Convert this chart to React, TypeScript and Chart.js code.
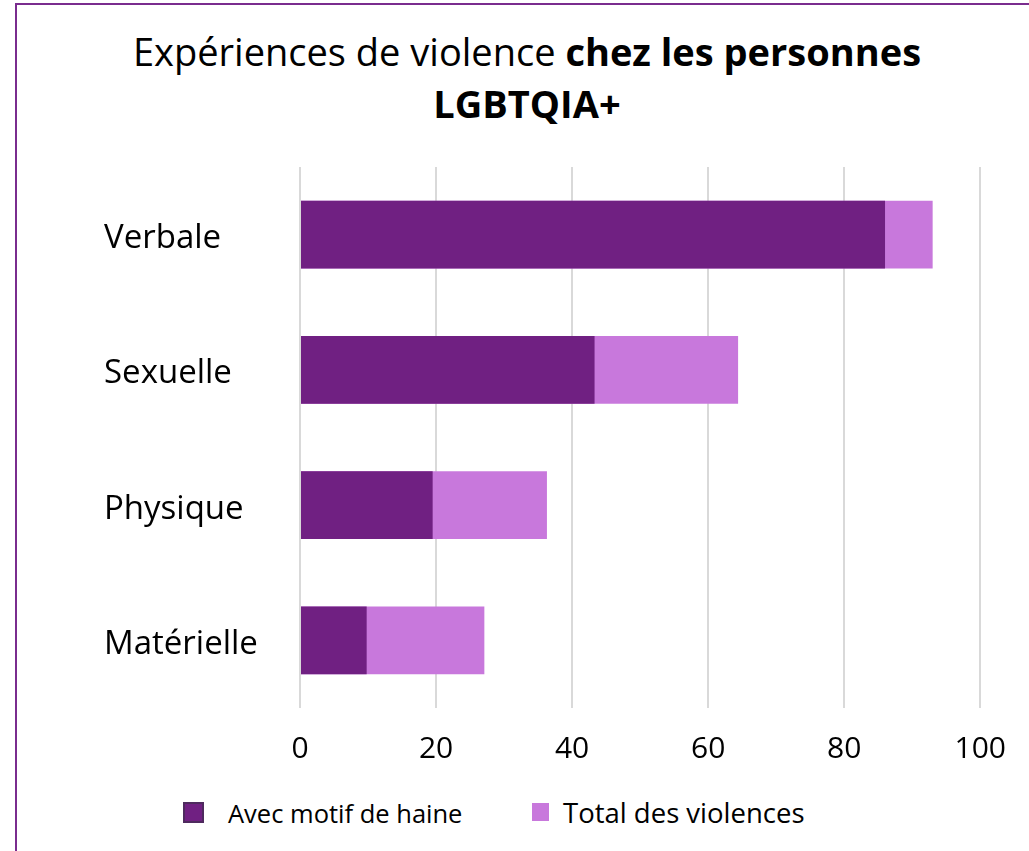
import React, { useEffect, useRef } from "react";
import { Chart, registerables } from "chart.js";

Chart.register(...registerables);

const categories = ["Verbale", "Sexuelle", "Physique", "Matérielle"];
const hateValues = [86, 43.3, 19.5, 9.8];
const totalValues = [93, 64.4, 36.3, 27.1];
const xTicks = [0, 20, 40, 60, 80, 100];
const seriesLabels = ["Avec motif de haine", "Total des violences"];
const titleNormal = "Expériences de violence ";
const titleBold = "chez les personnes";
const titleLine2 = "LGBTQIA+";

const DARK = "#702082";
const LIGHT = "#C878DC";
const FONT = "'Open Sans', 'Noto Sans', sans-serif";

export default function App() {
  const canvasRef = useRef<HTMLCanvasElement | null>(null);

  useEffect(() => {
    const canvas = canvasRef.current;
    if (!canvas) return;
    const chart = new Chart(canvas, {
      type: "bar",
      data: {
        labels: categories,
        datasets: [
          {
            label: seriesLabels[1],
            data: totalValues,
            backgroundColor: LIGHT,
            borderWidth: 0,
            grouped: false,
            order: 1,
            categoryPercentage: 1,
            barPercentage: 0.5,
          },
          {
            label: seriesLabels[0],
            data: hateValues,
            backgroundColor: DARK,
            borderWidth: 0,
            grouped: false,
            order: 0,
            categoryPercentage: 1,
            barPercentage: 0.5,
          },
        ],
      },
      options: {
        indexAxis: "y",
        responsive: false,
        animation: false,
        devicePixelRatio: 1,
        layout: { padding: { left: 104, right: 46, top: 30, bottom: 0 } },
        scales: {
          x: {
            min: xTicks[0],
            max: xTicks[xTicks.length - 1],
            ticks: {
              stepSize: xTicks[1] - xTicks[0],
              font: { family: FONT, size: 30 },
              color: "#000",
              padding: 23,
            },
            grid: { color: "#d9d9d9", lineWidth: 2, drawTicks: false },
            border: { display: false },
            afterFit: (s: any) => {
              s.height = 70;
            },
          },
          y: {
            ticks: {
              crossAlign: "far",
              font: { family: FONT, size: 33 },
              color: "#000",
              labelOffset: 4,
            },
            grid: { display: false },
            border: { display: false },
            afterFit: (s: any) => {
              s.width = 196;
            },
          },
        },
        plugins: {
          legend: { display: false },
          tooltip: { enabled: false },
          title: { display: false },
        },
      },
    } as any);
    return () => chart.destroy();
  }, []);

  const abs = (o: React.CSSProperties): React.CSSProperties => ({ position: "absolute", ...o });

  return (
    <div style={abs({ left: 0, top: 0, width: 1029, height: 851, overflow: "hidden", background: "#fff", fontFamily: FONT, color: "#000" })}>
      <div style={abs({ left: 15, top: 3, width: 1014, height: 848, borderTop: "2px solid #7a2c8e", borderLeft: "2px solid #7a2c8e", boxSizing: "border-box" })} />
      <div style={abs({ left: 0, top: 25, width: 1054, textAlign: "center", fontSize: 38, lineHeight: "52px", whiteSpace: "nowrap" })}>
        <div>
          {titleNormal}
          <b>{titleBold}</b>
        </div>
        <div>
          <b>{titleLine2}</b>
        </div>
      </div>
      <canvas ref={canvasRef} width={1029} height={641} style={abs({ left: 0, top: 137, width: 1029, height: 641 })} />
      <div style={abs({ left: 183, top: 802, width: 17, height: 17, background: DARK, border: "2px solid #4e2a5e" })} />
      <span style={abs({ left: 228, top: 800, fontSize: 25.5, lineHeight: "26px", whiteSpace: "nowrap" })}>{seriesLabels[0]}</span>
      <div style={abs({ left: 532, top: 803, width: 17, height: 18, background: LIGHT })} />
      <span style={abs({ left: 563, top: 800, fontSize: 27.5, lineHeight: "26px", whiteSpace: "nowrap" })}>{seriesLabels[1]}</span>
    </div>
  );
}
